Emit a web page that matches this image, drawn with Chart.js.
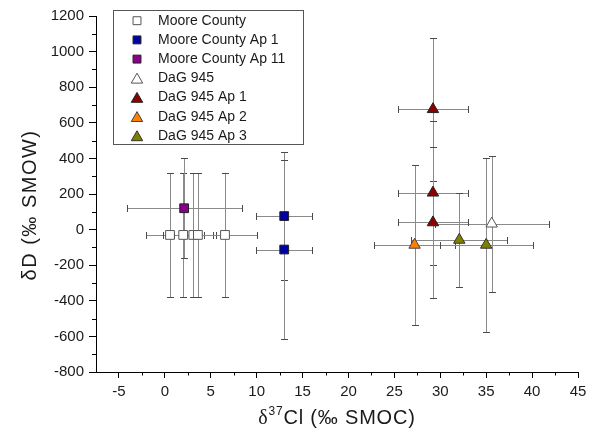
<!DOCTYPE html>
<html>
<head>
<meta charset="utf-8">
<script src="https://cdn.jsdelivr.net/npm/chart.js@4.4.1/dist/chart.umd.min.js"></script>
<style>
  html, body { margin: 0; padding: 0; background: #fff; }
  #wrap { width: 594px; height: 439px; position: relative; }
</style>
</head>
<body>
<div id="wrap"><canvas id="c" width="594" height="439"></canvas></div>
<script>
// ---- Data ----
const seriesNames = ['Moore County', 'Moore County Ap 1', 'Moore County Ap 11', 'DaG 945', 'DaG 945 Ap 1', 'DaG 945 Ap 2', 'DaG 945 Ap 3'];

const mooreX    = [0.56, 2.0, 3.1, 3.6, 6.55];
const mooreY    = [-30, -30, -30, -30, -30];
const mooreXErr = [2.6, 2.25, 2.15, 1.95, 3.45];
const mooreYErr = [350, 350, 350, 350, 350];

const mooreAp1X    = [13.0, 13.0];
const mooreAp1Y    = [76, -112];
const mooreAp1XErr = [3.03, 3.03];
const mooreAp1YErr = [360, 505];

const mooreAp11X    = [2.1];
const mooreAp11Y    = [120];
const mooreAp11XErr = [6.25];
const mooreAp11YErr = [280];

const dagX    = [35.6];
const dagY    = [33];
const dagXErr = [6.2];
const dagYErr = [383];

const dagAp1X    = [29.2, 29.2, 29.2];
const dagAp1Y    = [676, 207, 40];
const dagAp1XErr = [3.8, 3.8, 3.8];
const dagAp1YErr = [403, 405, 426];

const dagAp2X    = [27.2];
const dagAp2Y    = [-86];
const dagAp2XErr = [4.37];
const dagAp2YErr = [450];

const dagAp3X    = [32.07, 35.0];
const dagAp3Y    = [-58, -86];
const dagAp3XErr = [5.25, 5.08];
const dagAp3YErr = [262, 489];

const xTickValues = [-5, 0, 5, 10, 15, 20, 25, 30, 35, 40, 45];
const yTickValues = [-800, -600, -400, -200, 0, 200, 400, 600, 800, 1000, 1200];

// ---- Build datasets ----
function pts(xs, ys) { return xs.map((v, i) => ({ x: v, y: ys[i] })); }

const styles = [
  { fill: '#ffffff', border: '#555555', shape: 'rect' },
  { fill: '#0000a8', border: '#222222', shape: 'rect' },
  { fill: '#8b008b', border: '#222222', shape: 'rect' },
  { fill: '#ffffff', border: '#555555', shape: 'triangle' },
  { fill: '#8b0000', border: '#222222', shape: 'triangle' },
  { fill: '#ff8000', border: '#444444', shape: 'triangle' },
  { fill: '#808000', border: '#333333', shape: 'triangle' }
];
const xs = [mooreX, mooreAp1X, mooreAp11X, dagX, dagAp1X, dagAp2X, dagAp3X];
const ys = [mooreY, mooreAp1Y, mooreAp11Y, dagY, dagAp1Y, dagAp2Y, dagAp3Y];
const xErrs = [mooreXErr, mooreAp1XErr, mooreAp11XErr, dagXErr, dagAp1XErr, dagAp2XErr, dagAp3XErr];
const yErrs = [mooreYErr, mooreAp1YErr, mooreAp11YErr, dagYErr, dagAp1YErr, dagAp2YErr, dagAp3YErr];

const datasets = seriesNames.map((name, k) => ({
  label: name,
  data: pts(xs[k], ys[k]),
  xErr: xErrs[k],
  yErr: yErrs[k],
  pointStyle: styles[k].shape,
  pointRadius: styles[k].shape === 'rect' ? 6.2 : 6.6,
  pointBackgroundColor: styles[k].fill,
  pointBorderColor: styles[k].border,
  pointBorderWidth: 1,
  showLine: false
}));

// ---- Plugins ----
const errorBars = {
  id: 'errorBars',
  beforeDatasetsDraw(chart) {
    const ctx = chart.ctx, xs_ = chart.scales.x, ys_ = chart.scales.y;
    const cap = 3.5;
    ctx.save();
    chart.data.datasets.forEach(ds => {
      ds.data.forEach((p, i) => {
        const px = Math.round(xs_.getPixelForValue(p.x)) + 0.5;
        const py = Math.round(ys_.getPixelForValue(p.y)) + 0.5;
        const xl = Math.round(xs_.getPixelForValue(p.x - ds.xErr[i])) + 0.5;
        const xr = Math.round(xs_.getPixelForValue(p.x + ds.xErr[i])) + 0.5;
        const yt = Math.round(ys_.getPixelForValue(p.y + ds.yErr[i])) + 0.5;
        const yb = Math.round(ys_.getPixelForValue(p.y - ds.yErr[i])) + 0.5;
        ctx.lineWidth = 1;
        ctx.strokeStyle = '#8a8a8a';
        ctx.beginPath();
        ctx.moveTo(xl, py); ctx.lineTo(xr, py);
        ctx.moveTo(px, yt); ctx.lineTo(px, yb);
        ctx.stroke();
        ctx.strokeStyle = '#4a4a4a';
        ctx.beginPath();
        ctx.moveTo(xl, py - cap); ctx.lineTo(xl, py + cap);
        ctx.moveTo(xr, py - cap); ctx.lineTo(xr, py + cap);
        ctx.moveTo(px - cap, yt); ctx.lineTo(px + cap, yt);
        ctx.moveTo(px - cap, yb); ctx.lineTo(px + cap, yb);
        ctx.stroke();
      });
    });
    ctx.restore();
  }
};

function drawMarker(ctx, shape, x, y, r, fill, border) {
  ctx.beginPath();
  if (shape === 'rect') {
    const s = Math.SQRT1_2 * r;
    ctx.rect(x - s, y - s, 2 * s, 2 * s);
  } else {
    const w = r * Math.sin(2 * Math.PI / 3);
    ctx.moveTo(x, y - r);
    ctx.lineTo(x + w, y + r / 2);
    ctx.lineTo(x - w, y + r / 2);
    ctx.closePath();
  }
  ctx.fillStyle = fill; ctx.fill();
  ctx.lineWidth = 1; ctx.strokeStyle = border; ctx.stroke();
}

const extras = {
  id: 'extras',
  afterDraw(chart) {
    const ctx = chart.ctx, xs_ = chart.scales.x, ys_ = chart.scales.y;
    const a = chart.chartArea;
    ctx.save();
    // minor ticks
    ctx.strokeStyle = '#000'; ctx.lineWidth = 1;
    ctx.beginPath();
    for (let v = -2.5; v < 45; v += 5) {
      const px = Math.round(xs_.getPixelForValue(v)) + 0.5;
      ctx.moveTo(px, a.bottom); ctx.lineTo(px, a.bottom + 3.5);
    }
    for (let v = -700; v < 1200; v += 200) {
      const py = Math.round(ys_.getPixelForValue(v)) + 0.5;
      ctx.moveTo(a.left, py); ctx.lineTo(a.left - 4, py);
    }
    ctx.stroke();

    // legend box
    const lx = 113.5, ly = 10.5, lw = 190, lh = 134;
    ctx.fillStyle = '#fff';
    ctx.fillRect(lx, ly, lw, lh);
    ctx.strokeStyle = '#555'; ctx.lineWidth = 1;
    ctx.strokeRect(lx, ly, lw, lh);
    chart.data.datasets.forEach((ds, k) => {
      const cy = 20.7 + k * 19.2;
      drawMarker(ctx, ds.pointStyle, 137, cy + (ds.pointStyle === 'triangle' ? 1.5 : 0),
                 ds.pointStyle === 'rect' ? 5.6 : ds.pointRadius,
                 ds.pointBackgroundColor, ds.pointBorderColor);
      ctx.fillStyle = '#1a1a1a';
      ctx.font = '14px "Liberation Sans", Arial, sans-serif';
      ctx.textBaseline = 'middle';
      ctx.textAlign = 'left';
      ctx.fillText(ds.label, 158, cy);
    });

    // x title with superscript
    const cx = (a.left + a.right) / 2;
    const base = 424;
    ctx.fillStyle = '#1a1a1a';
    ctx.textBaseline = 'alphabetic';
    ctx.textAlign = 'left';
    ctx.letterSpacing = '0.8px';
    const fDelta = '20px "Liberation Serif", serif';
    const fSup = '12px "Liberation Sans", Arial, sans-serif';
    const fMain = '20px "Liberation Sans", Arial, sans-serif';
    ctx.font = fDelta; const wD = ctx.measureText('δ').width;
    ctx.font = fSup; const wS = ctx.measureText('37').width;
    ctx.font = fMain; const wM = ctx.measureText('Cl (‰ SMOC)').width;
    let x0 = cx - (wD + wS + wM) / 2;
    ctx.font = fDelta; ctx.fillText('δ', x0, base); x0 += wD;
    ctx.font = fSup; ctx.fillText('37', x0, base - 9); x0 += wS;
    ctx.font = fMain; ctx.fillText('Cl (‰ SMOC)', x0, base);

    // y title
    ctx.translate(30, 205);
    ctx.rotate(-Math.PI / 2);
    ctx.textAlign = 'center';
    ctx.textBaseline = 'middle';
    ctx.letterSpacing = '1.5px';
    ctx.font = '20px "Liberation Sans", Arial, sans-serif';
    ctx.fillText('δD (‰ SMOW)', 0, 0);
    ctx.restore();
  }
};

const tickFont = { family: '"Liberation Sans", Arial, sans-serif', size: 15 };

new Chart(document.getElementById('c'), {
  type: 'scatter',
  data: { datasets },
  options: {
    responsive: false,
    animation: false,
    devicePixelRatio: 1,
    layout: { padding: { left: 0, top: 16, right: 16, bottom: 0 } },
    plugins: { legend: { display: false }, tooltip: { enabled: false } },
    scales: {
      x: {
        type: 'linear', min: -7.5, max: 45,
        afterBuildTicks(s) { s.ticks = xTickValues.map(v => ({ value: v })); },
        afterFit(s) { s.height = 67; },
        ticks: { font: tickFont, color: '#1a1a1a', padding: 5, maxRotation: 0, callback: v => String(v) },
        grid: { drawOnChartArea: false, drawTicks: true, tickLength: 6, tickColor: '#000', tickWidth: 1 },
        border: { display: true, color: '#000', width: 1 },
        title: { display: false }
      },
      y: {
        type: 'linear', min: -800, max: 1200,
        afterBuildTicks(s) { s.ticks = yTickValues.map(v => ({ value: v })); },
        afterFit(s) { s.width = 96; },
        ticks: { font: tickFont, color: '#1a1a1a', padding: 5, callback: v => String(v) },
        grid: { drawOnChartArea: false, drawTicks: true, tickLength: 7, tickColor: '#000', tickWidth: 1 },
        border: { display: true, color: '#000', width: 1 },
        title: { display: false }
      }
    }
  },
  plugins: [errorBars, extras]
});
</script>
</body>
</html>
